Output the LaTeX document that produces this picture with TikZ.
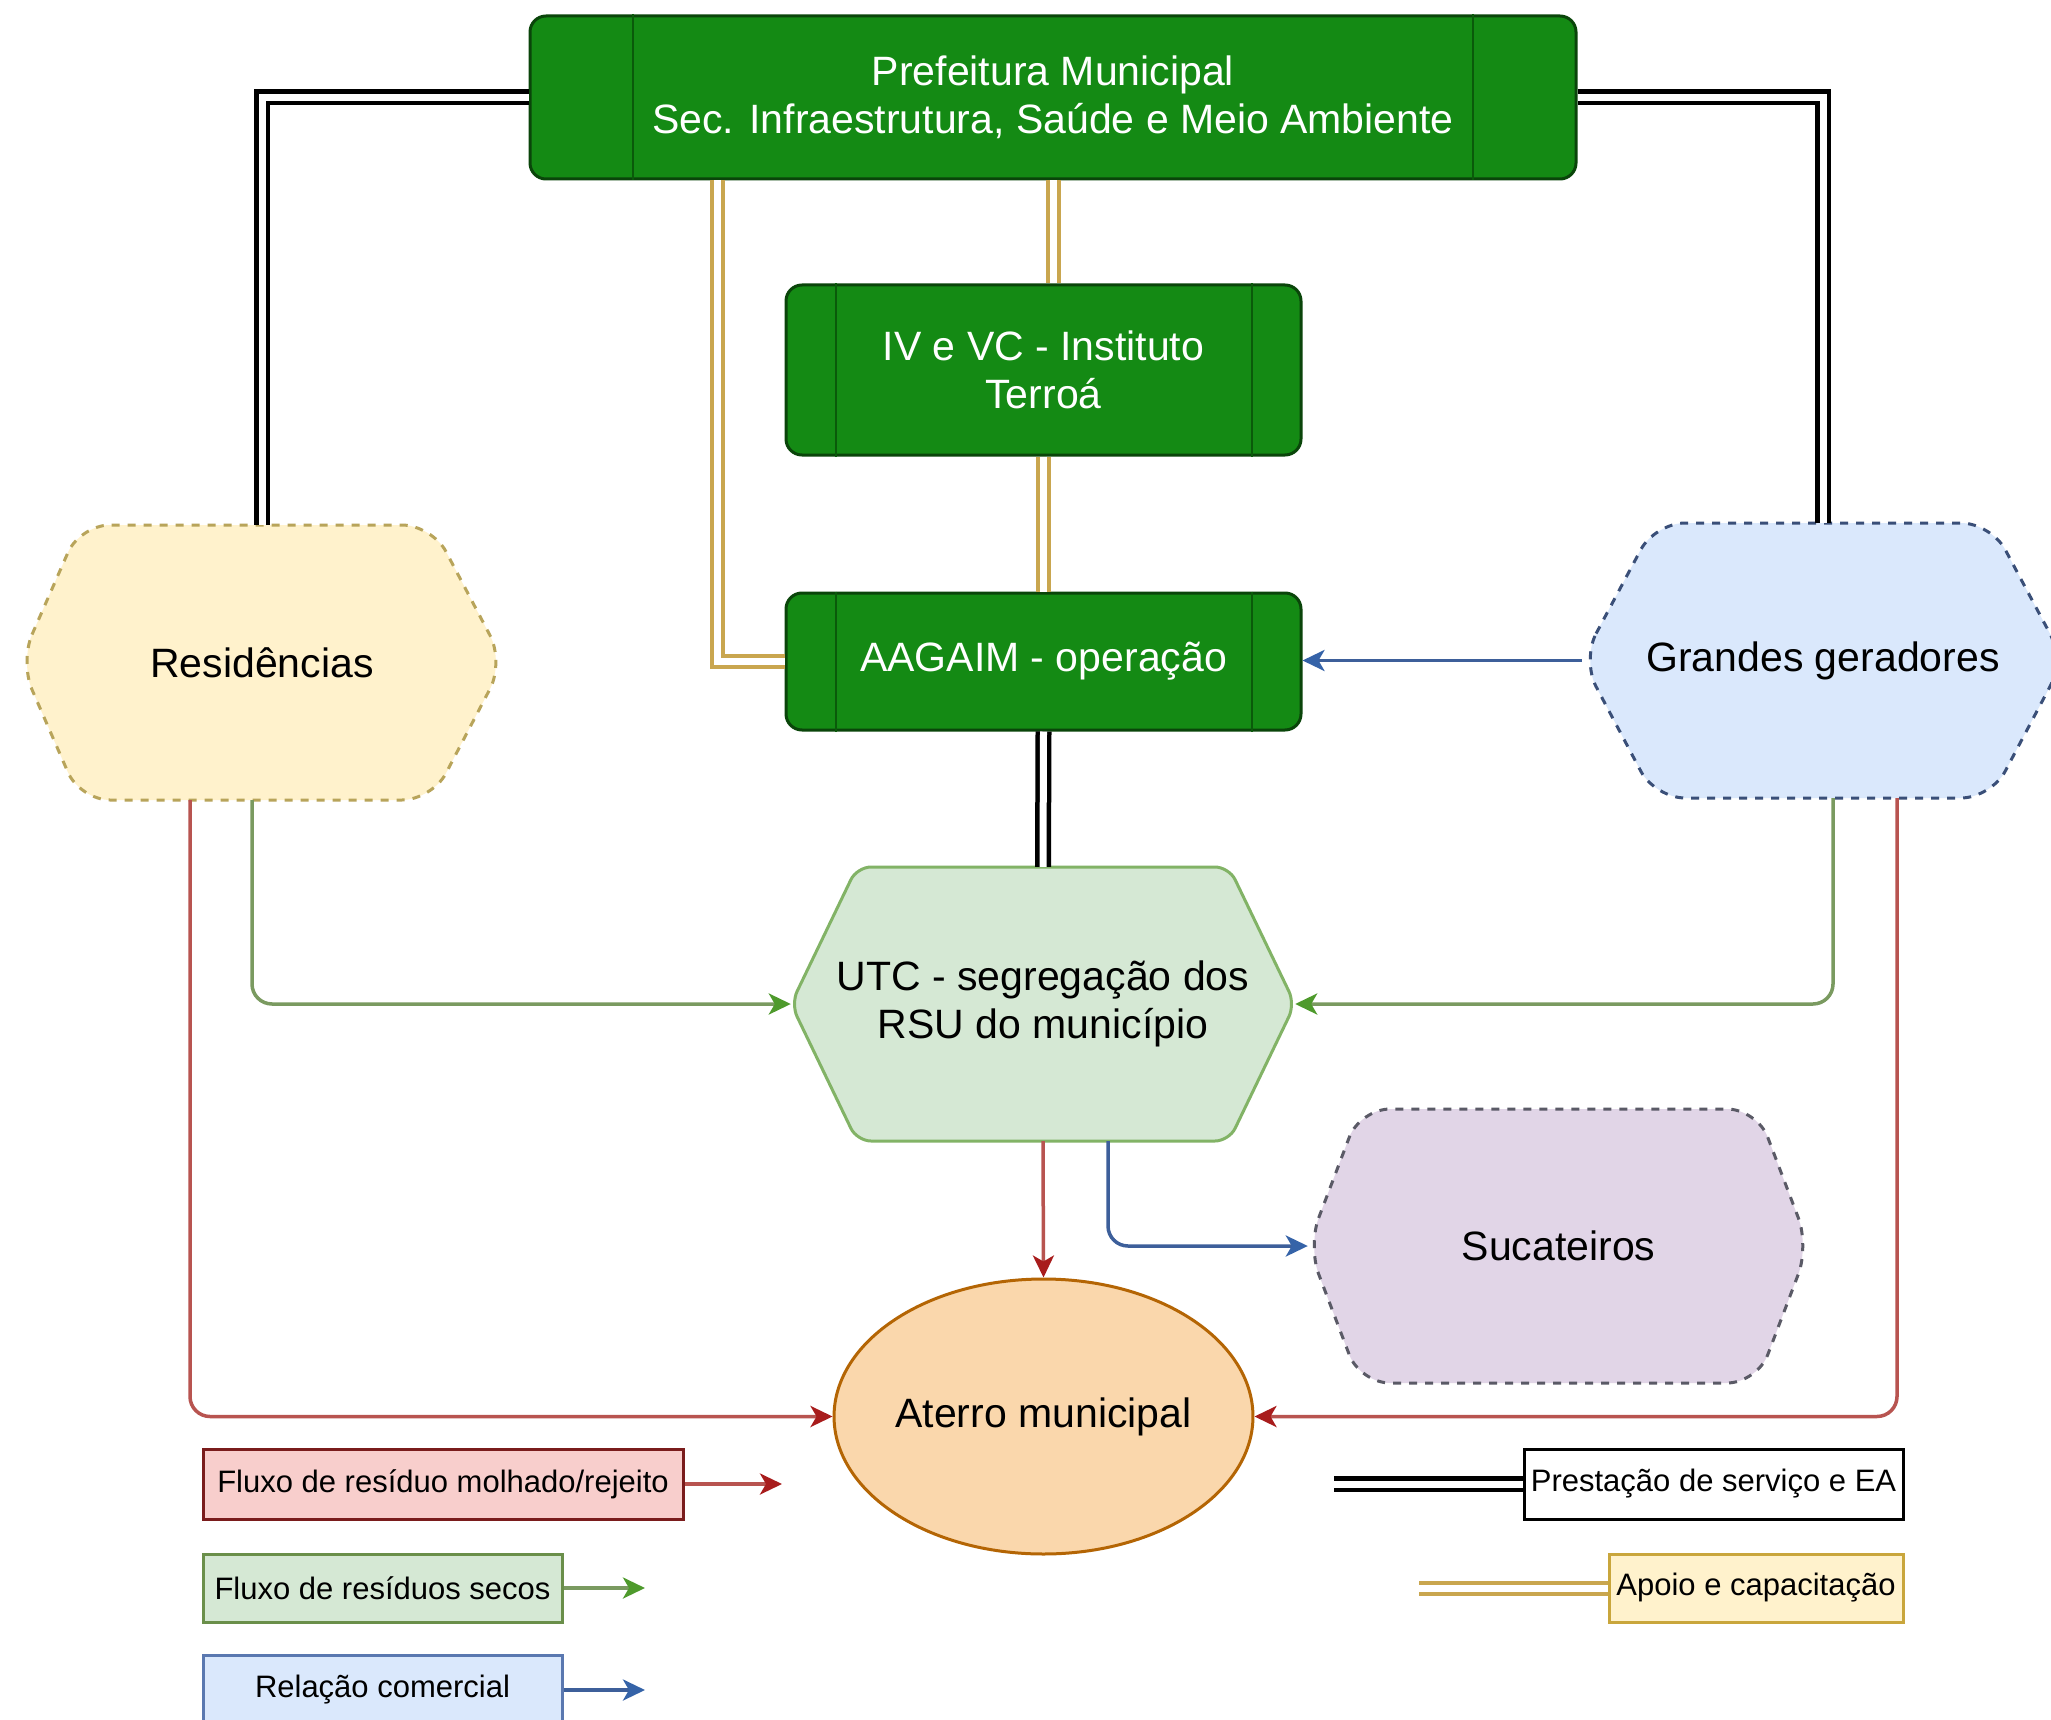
\documentclass[tikz,border=0pt]{standalone}
\usepackage{fontspec}
\setmainfont{Liberation Sans}
\usetikzlibrary{arrows.meta,shapes.geometric,calc}
\definecolor{gfill}{HTML}{148A14}
\definecolor{gborder}{HTML}{0A450A}
\definecolor{ginner}{HTML}{0A5A0A}
\definecolor{resfill}{HTML}{FFF2CC}
\definecolor{resdash}{HTML}{B8A45A}
\definecolor{ggfill}{HTML}{DAE8FC}
\definecolor{ggdash}{HTML}{3A4F78}
\definecolor{utcfill}{HTML}{D5E8D4}
\definecolor{utcline}{HTML}{82B366}
\definecolor{sucfill}{HTML}{E1D5E7}
\definecolor{sucdash}{HTML}{5A5A66}
\definecolor{atfill}{HTML}{FAD7AC}
\definecolor{atline}{HTML}{B46504}
\definecolor{redl}{HTML}{B85450}
\definecolor{redtip}{HTML}{A81C1C}
\definecolor{greenl}{HTML}{7A9A60}
\definecolor{greentip}{HTML}{4E9A2C}
\definecolor{bluel}{HTML}{3D5F9A}
\definecolor{bluetip}{HTML}{3563A8}
\definecolor{goldl}{HTML}{C9A64F}
\definecolor{legred}{HTML}{7A1C1C}
\definecolor{legredfill}{HTML}{F8CECC}
\definecolor{leggreen}{HTML}{6A8F4A}
\definecolor{legblue}{HTML}{5A78B0}
\definecolor{legyel}{HTML}{C9A63C}
\newcommand\mybig{\fontsize{41pt}{48pt}\selectfont}
\newcommand\mysmall{\fontsize{31pt}{37pt}\selectfont}
\begin{document}
\begin{tikzpicture}[x=1pt,y=-1pt,
  greenbox/.style={draw=gborder, fill=gfill, line width=3pt, rounded corners=16pt,
    text=white, font=\mybig, align=center, inner sep=0pt},
  innerl/.style={draw=ginner, line width=2pt},
  hexlabel/.style={font=\mybig, align=center, inner sep=0pt, text=black},
  hexres/.style={fill=resfill, draw=resdash, line width=3pt, dash pattern=on 8pt off 8pt, rounded corners=30pt},
  hexgg/.style={fill=ggfill, draw=ggdash, line width=3pt, dash pattern=on 8pt off 8pt, rounded corners=30pt},
  hexsuc/.style={fill=sucfill, draw=sucdash, line width=3pt, dash pattern=on 8pt off 8pt, rounded corners=30pt},
  hexutc/.style={fill=utcfill, draw=utcline, line width=3pt, rounded corners=14pt},
  dblk/.style={draw=black, double=white, double distance=7pt, line width=4.5pt},
  dgold/.style={draw=goldl, double=white, double distance=7pt, line width=4pt},
  redflow/.style={draw=redl, line width=3.5pt, rounded corners=20pt,
    -{Stealth[length=22pt,width=21pt,inset=6pt,fill=redtip,color=redtip]}},
  greenflow/.style={draw=greenl, line width=3.5pt, rounded corners=20pt,
    -{Stealth[length=22pt,width=21pt,inset=6pt,fill=greentip,color=greentip]}},
  blueflow/.style={draw=bluel, line width=3.5pt, rounded corners=20pt,
    -{Stealth[length=22pt,width=21pt,inset=6pt,fill=bluetip,color=bluetip]}},
  legbox/.style={line width=3pt, font=\mysmall, inner sep=0pt, align=center}
]
\clip (0,0) rectangle (2051,1720);
\fill[white] (0,0) rectangle (2051,1720);

% ---------- green process boxes ----------
\node[greenbox, minimum width=1046pt, minimum height=163pt] (pref) at (1053,97.5)
  {Prefeitura Municipal\\Sec. Infraestrutura, Saúde e Meio Ambiente};
\draw[innerl] ($(pref.north west)+(104,0)$) -- ($(pref.south west)+(104,0)$);
\draw[innerl] ($(pref.north east)+(-105,0)$) -- ($(pref.south east)+(-105,0)$);

\node[greenbox, minimum width=515pt, minimum height=170pt] (iv) at (1043.5,370)
  {IV e VC - Instituto\\Terroá};
\draw[innerl] ($(iv.north west)+(51,0)$) -- ($(iv.south west)+(51,0)$);
\draw[innerl] ($(iv.north east)+(-51,0)$) -- ($(iv.south east)+(-51,0)$);

\node[greenbox, minimum width=515pt, minimum height=137pt] (aag) at (1043.5,661.5)
  {AAGAIM - operação};
\draw[innerl] ($(aag.north west)+(51,0)$) -- ($(aag.south west)+(51,0)$);
\draw[innerl] ($(aag.north east)+(-51,0)$) -- ($(aag.south east)+(-51,0)$);

% ---------- hexagons ----------
\path[hexres] (20,662) -- (80,525) -- (432,525) -- (504,662) -- (432,800) -- (80,800) -- cycle;
\node[hexlabel, minimum width=484pt, minimum height=275pt] (res) at (262,662.5) {Residências};

\path[hexgg] (1582,660) -- (1655,523) -- (1991,523) -- (2064,660) -- (1991,798) -- (1655,798) -- cycle;
\node[hexlabel, minimum width=482pt, minimum height=275pt] (gg) at (1823,660.5) {Grandes geradores};

\path[hexutc] (791,1004) -- (857,867) -- (1229,867) -- (1295,1004) -- (1229,1141) -- (857,1141) -- cycle;
\node[hexlabel, minimum width=504pt, minimum height=274pt] (utc) at (1043,1004)
  {UTC - segregação dos\\RSU do município};

\path[hexsuc] (1308,1246) -- (1360,1109) -- (1757,1109) -- (1809,1246) -- (1757,1383) -- (1360,1383) -- cycle;
\node[hexlabel, minimum width=501pt, minimum height=274pt] (suc) at (1558.5,1246) {Sucateiros};

% ---------- ellipse ----------
\node[ellipse, fill=atfill, draw=atline, line width=3pt, minimum width=417pt, minimum height=275pt,
  hexlabel] (at) at (1043.5,1416.5) {Aterro municipal};

% ---------- double black (Prestação de serviço e EA) ----------
\draw[dblk] (pref.west) -| (res.north);
\draw[dblk] (pref.east) -| (gg.north);
\draw[dblk] (aag.south) -- (utc.north);

% ---------- double gold (Apoio e capacitação) ----------
\draw[dgold] ([xshift=-336pt]pref.south) |- (aag.west);
\draw[dgold] (pref.south) -- (pref.south |- iv.north);
\draw[dgold] (iv.south) -- (aag.north);

% ---------- blue (Relação comercial) ----------
\draw[blueflow] (gg.west) -- (aag.east |- gg.west);
\draw[blueflow] ([xshift=65pt]utc.south) |- (suc.west);

% ---------- green (resíduos secos) ----------
\draw[greenflow] ([xshift=-10pt]res.south) |- (utc.west);
\draw[greenflow] ([xshift=10pt]gg.south) |- (utc.east);

% ---------- red (resíduo molhado/rejeito) ----------
\draw[redflow] (utc.south) -- (at.north);
\draw[redflow] ([xshift=-72pt]res.south) |- (at.west);
\draw[redflow] ([xshift=74pt]gg.south) |- (at.east);

% ---------- legend ----------
\node[legbox, draw=legred, fill=legredfill, minimum width=480pt, minimum height=70pt] (l1) at (443,1484)
  {Fluxo de resíduo molhado/rejeito};
\coordinate (l1e) at (782,1484);
\draw[redflow] (l1.east) -- (l1e);

\node[legbox, draw=leggreen, fill=utcfill, minimum width=359pt, minimum height=68pt] (l2) at (382.5,1588)
  {Fluxo de resíduos secos};
\coordinate (l2e) at (645,1588);
\draw[greenflow] (l2.east) -- (l2e);

\node[legbox, draw=legblue, fill=ggfill, minimum width=359pt, minimum height=70pt] (l3) at (382.5,1690)
  {Relação comercial};
\coordinate (l3e) at (645,1690);
\draw[blueflow] (l3.east) -- (l3e);

\node[legbox, draw=black, fill=white, minimum width=379pt, minimum height=70pt] (l4) at (1713.5,1484)
  {Prestação de serviço e EA};
\coordinate (l4s) at (1334,1484);
\draw[dblk] (l4s) -- (l4.west);

\node[legbox, draw=legyel, fill=resfill, minimum width=294pt, minimum height=68pt] (l5) at (1756,1588)
  {Apoio e capacitação};
\coordinate (l5s) at (1419,1588);
\draw[dgold] (l5s) -- (l5.west);
\end{tikzpicture}
\end{document}
